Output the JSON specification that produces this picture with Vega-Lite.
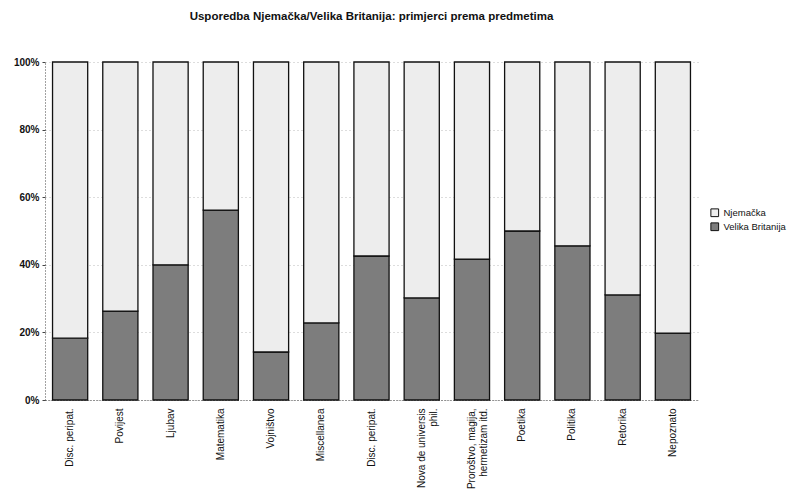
{
  "$schema": "https://vega.github.io/schema/vega-lite/v6.json",
  "autosize": {"type": "none"},
  "width": 653,
  "height": 338,
  "padding": {"left": 45, "top": 62, "right": 99, "bottom": 102},
  "background": "white",
  "title": {
    "text": "Usporedba Njemačka/Velika Britanija: primjerci prema predmetima",
    "font": "Liberation Sans",
    "fontSize": 11.5,
    "fontWeight": "bold",
    "color": "#111",
    "anchor": "middle",
    "offset": 35
  },
  "data": {
    "values": [
      {"predmet": "Disc. peripat.", "serija": "Velika Britanija", "udio": 18.3},
      {"predmet": "Disc. peripat.", "serija": "Njemačka", "udio": 81.7},
      {"predmet": "Povijest", "serija": "Velika Britanija", "udio": 26.3},
      {"predmet": "Povijest", "serija": "Njemačka", "udio": 73.7},
      {"predmet": "Ljubav", "serija": "Velika Britanija", "udio": 40.0},
      {"predmet": "Ljubav", "serija": "Njemačka", "udio": 60.0},
      {"predmet": "Matematika", "serija": "Velika Britanija", "udio": 56.2},
      {"predmet": "Matematika", "serija": "Njemačka", "udio": 43.8},
      {"predmet": "Vojništvo", "serija": "Velika Britanija", "udio": 14.2},
      {"predmet": "Vojništvo", "serija": "Njemačka", "udio": 85.8},
      {"predmet": "Miscellanea", "serija": "Velika Britanija", "udio": 22.8},
      {"predmet": "Miscellanea", "serija": "Njemačka", "udio": 77.2},
      {"predmet": "Disc. peripat. ", "serija": "Velika Britanija", "udio": 42.6},
      {"predmet": "Disc. peripat. ", "serija": "Njemačka", "udio": 57.4},
      {"predmet": "Nova de universis|phil.", "serija": "Velika Britanija", "udio": 30.2},
      {"predmet": "Nova de universis|phil.", "serija": "Njemačka", "udio": 69.8},
      {"predmet": "Proroštvo, magija,|hermetizam itd.", "serija": "Velika Britanija", "udio": 41.7},
      {"predmet": "Proroštvo, magija,|hermetizam itd.", "serija": "Njemačka", "udio": 58.3},
      {"predmet": "Poetika", "serija": "Velika Britanija", "udio": 50.0},
      {"predmet": "Poetika", "serija": "Njemačka", "udio": 50.0},
      {"predmet": "Politika", "serija": "Velika Britanija", "udio": 45.6},
      {"predmet": "Politika", "serija": "Njemačka", "udio": 54.4},
      {"predmet": "Retorika", "serija": "Velika Britanija", "udio": 31.1},
      {"predmet": "Retorika", "serija": "Njemačka", "udio": 68.9},
      {"predmet": "Nepoznato", "serija": "Velika Britanija", "udio": 19.8},
      {"predmet": "Nepoznato", "serija": "Njemačka", "udio": 80.2}
    ]
  },
  "mark": {"type": "bar", "stroke": "#111", "strokeWidth": 1.3},
  "encoding": {
    "x": {
      "field": "predmet",
      "type": "nominal",
      "sort": null,
      "scale": {"paddingInner": 0.3, "paddingOuter": 0.15},
      "axis": {
        "title": null,
        "labelAngle": -90,
        "labelAlign": "right",
        "labelBaseline": "middle",
        "labelExpr": "split(datum.value, '|')",
        "labelFont": "Liberation Sans",
        "labelFontSize": 10,
        "labelColor": "#111",
        "labelPadding": 8,
        "ticks": false,
        "domainColor": "#444",
        "domainDash": [1, 2],
        "domainWidth": 1
      }
    },
    "y": {
      "field": "udio",
      "type": "quantitative",
      "stack": "normalize",
      "axis": {
        "title": null,
        "format": ".0%",
        "values": [0, 0.2, 0.4, 0.6, 0.8, 1],
        "labelFont": "Liberation Sans",
        "labelFontSize": 10,
        "labelFontWeight": "bold",
        "labelColor": "#111",
        "tickSize": 3,
        "tickColor": "#444",
        "domainColor": "#444",
        "domainDash": [1, 2],
        "grid": true,
        "gridColor": "#bbb",
        "gridDash": [1, 3],
        "labelPadding": 3
      }
    },
    "color": {
      "field": "serija",
      "type": "nominal",
      "scale": {"domain": ["Njemačka", "Velika Britanija"], "range": ["#ededed", "#7d7d7d"]},
      "legend": {
        "title": null,
        "orient": "none",
        "legendX": 665,
        "legendY": 146,
        "symbolType": "square",
        "symbolSize": 60,
        "symbolStrokeColor": "#111",
        "symbolStrokeWidth": 1,
        "labelFont": "Liberation Sans",
        "labelFontSize": 9.5,
        "labelColor": "#111",
        "rowPadding": 1
      }
    },
    "order": {"field": "serija", "sort": "descending"}
  },
  "config": {"view": {"stroke": null}}
}
